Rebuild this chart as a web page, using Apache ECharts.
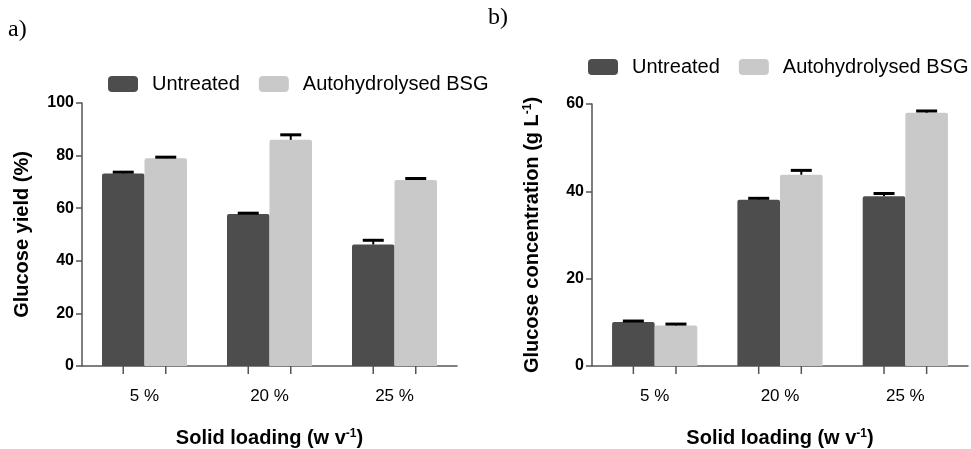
<!DOCTYPE html>
<html>
<head>
<meta charset="utf-8">
<script src="https://cdn.jsdelivr.net/npm/echarts@6/dist/echarts.min.js"></script>
<style>
  html, body { margin: 0; padding: 0; background: #fff; }
  #chart { width: 971px; height: 449px; }
</style>
</head>
<body>
<div id="chart"></div>
<script>
const categories = ["5 %", "20 %", "25 %"];
const seriesNames = ["Untreated", "Autohydrolysed BSG"];

// panel a: glucose yield (%)
const yieldUntreated = [73.2, 57.8, 46.2];
const yieldUntreatedErr = [0.5, 0.3, 1.6];
const yieldAuto = [79.0, 86.0, 70.7];
const yieldAutoErr = [0.4, 1.9, 0.6];

// panel b: glucose concentration (g/L)
const concUntreated = [10.1, 38.1, 38.9];
const concUntreatedErr = [0.2, 0.3, 0.6];
const concAuto = [9.3, 43.8, 58.0];
const concAutoErr = [0.3, 1.0, 0.4];

const DARK = "#4d4d4d";
const LIGHT = "#c9c9c9";
const AXIS = "#555";
const FONT = "'Liberation Sans', Arial, sans-serif";
const BAR_FRAC = 0.34;

const chart = echarts.init(document.getElementById("chart"));

// error bar + tick under each bar, placed through the axis scales
const errData = (vals, errs, s) => vals.map((v, i) => [i, v, errs[i], s]);

const renderErr = (params, api) => {
  const cat = api.value(0);
  const val = api.value(1);
  const err = api.value(2);
  const s = api.value(3);
  const bw = api.size([1, 0])[0] * BAR_FRAC;
  const base = api.coord([cat, val]);
  const top = api.coord([cat, val + err]);
  const zero = api.coord([cat, 0]);
  const x = base[0] + (s === 0 ? -bw / 2 : bw / 2);
  const capW = 21;
  return {
    type: "group",
    children: [
      { type: "line", shape: { x1: x, y1: base[1], x2: x, y2: top[1] },
        style: { stroke: "#000", lineWidth: 2 } },
      { type: "line", shape: { x1: x - capW / 2, y1: top[1], x2: x + capW / 2, y2: top[1] },
        style: { stroke: "#000", lineWidth: 3 } },
      { type: "line", shape: { x1: x, y1: zero[1], x2: x, y2: zero[1] + 8 },
        style: { stroke: AXIS, lineWidth: 1.5 } }
    ]
  };
};

const supRich = {
  sup: { fontSize: 12, fontWeight: "bold", fontFamily: FONT, color: "#000", verticalAlign: "top", lineHeight: 8 }
};

const xAxisCommon = (gridIndex) => ({
  type: "category",
  gridIndex,
  data: categories,
  name: "Solid loading (w v{sup|-1})",
  nameLocation: "middle",
  nameGap: 62,
  nameTextStyle: { fontFamily: FONT, fontWeight: "bold", fontSize: 20, color: "#000", rich: supRich },
  axisLine: { lineStyle: { color: AXIS, width: 1.5 } },
  axisTick: { show: false },
  axisLabel: { fontFamily: FONT, fontSize: 17, color: "#000", margin: 22 }
});

const yAxisCommon = (gridIndex, max, interval, name) => ({
  type: "value",
  gridIndex,
  min: 0,
  max,
  interval,
  name,
  nameLocation: "middle",
  nameRotate: 90,
  nameGap: 50,
  nameTextStyle: { fontFamily: FONT, fontWeight: "bold", fontSize: 20, color: "#000", rich: supRich },
  splitLine: { show: false },
  axisLine: { show: true, lineStyle: { color: AXIS, width: 1.5 } },
  axisTick: { show: true, length: 6, lineStyle: { color: AXIS, width: 1.5 } },
  axisLabel: { fontFamily: FONT, fontWeight: "bold", fontSize: 16, color: "#000", margin: 8 }
});

const barSeries = (name, data, axisIndex, color) => ({
  name,
  type: "bar",
  xAxisIndex: axisIndex,
  yAxisIndex: axisIndex,
  data,
  barWidth: (BAR_FRAC * 100) + "%",
  barGap: "0%",
  itemStyle: { color, borderRadius: [2, 2, 0, 0] },
  animation: false
});

const errSeries = (data, axisIndex) => ({
  type: "custom",
  xAxisIndex: axisIndex,
  yAxisIndex: axisIndex,
  data,
  renderItem: renderErr,
  z: 5,
  silent: true,
  animation: false
});

const legendCommon = (left, top) => ({
  left,
  top,
  padding: 0,
  width: 400,
  data: seriesNames,
  icon: "roundRect",
  itemWidth: 30,
  itemHeight: 16,
  itemGap: 19,
  textStyle: { fontFamily: FONT, fontSize: 20, color: "#000", padding: [0, 0, 0, 9] }
});

chart.setOption({
  backgroundColor: "#fff",
  color: [DARK, LIGHT],
  animation: false,
  graphic: [
    { type: "text", left: 8, top: 18, style: { text: "a)", font: "24px 'Liberation Serif', serif", fill: "#000" } },
    { type: "text", left: 488, top: 6, style: { text: "b)", font: "24px 'Liberation Serif', serif", fill: "#000" } }
  ],
  legend: [legendCommon(108, 74), legendCommon(588, 57)],
  grid: [
    { left: 82, top: 103, width: 375, height: 263, outerBoundsMode: "none" },
    { left: 592, top: 104, width: 376, height: 262, outerBoundsMode: "none" }
  ],
  xAxis: [xAxisCommon(0), xAxisCommon(1)],
  yAxis: [
    yAxisCommon(0, 100, 20, "Glucose yield (%)"),
    yAxisCommon(1, 60, 20, "Glucose concentration (g L{sup|-1})")
  ],
  series: [
    barSeries(seriesNames[0], yieldUntreated, 0, DARK),
    barSeries(seriesNames[1], yieldAuto, 0, LIGHT),
    errSeries(errData(yieldUntreated, yieldUntreatedErr, 0).concat(errData(yieldAuto, yieldAutoErr, 1)), 0),
    barSeries(seriesNames[0], concUntreated, 1, DARK),
    barSeries(seriesNames[1], concAuto, 1, LIGHT),
    errSeries(errData(concUntreated, concUntreatedErr, 0).concat(errData(concAuto, concAutoErr, 1)), 1)
  ]
});
</script>
</body>
</html>
